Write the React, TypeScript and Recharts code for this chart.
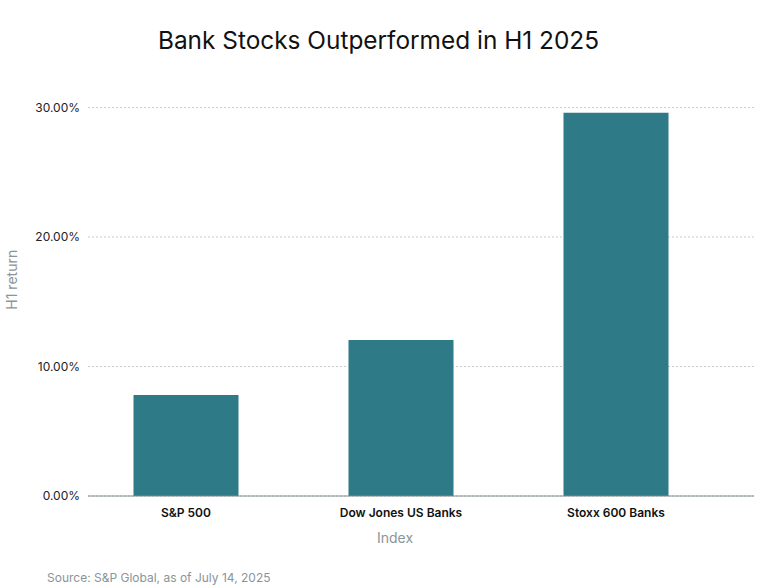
import React from 'react';
import { BarChart, Bar, XAxis, YAxis, CartesianGrid, Label } from 'recharts';

const categories = ['S&P 500', 'Dow Jones US Banks', 'Stoxx 600 Banks'];
const returns = [7.8, 12.05, 29.6];
const yTicks = [0, 10, 20, 30];

const data = categories.map((name, i) => ({ name, value: returns[i] }));

const FONT = 'Inter, "Noto Sans", sans-serif';
const BAR = '#2e7a87';
const MUTED = '#8a9599';

const App: React.FC = () => {
  return (
    <div style={{ position: 'absolute', left: 0, top: 0, width: 757, height: 587, fontFamily: FONT, background: '#fff' }}>
      <div
        style={{
          position: 'absolute',
          top: 25,
          left: 0,
          width: 757,
          textAlign: 'center',
          fontSize: 24.4,
          color: '#111',
        }}
      >
        Bank Stocks Outperformed in H1 2025
      </div>
      <BarChart
        width={757}
        height={587}
        data={data}
        margin={{ top: 107.5, right: 3, bottom: 61, left: 0 }}
      >
        <CartesianGrid vertical={false} stroke="#cccccc" strokeDasharray="2 2" />
        <XAxis
          dataKey="name"
          height={30}
          padding={{ left: -9.5, right: 30.5 }}
          tickLine={false}
          axisLine={{ stroke: '#7f8c8d' }}
          tick={{ fontSize: 12, fill: '#111', fontWeight: 600, fontFamily: FONT }}
          tickMargin={6}
        >
          <Label value="Index" position="insideBottom" offset={-17} dx={-26} style={{ fontSize: 14, fill: MUTED, fontFamily: FONT }} />
        </XAxis>
        <YAxis
          width={88}
          domain={[0, 30]}
          ticks={yTicks}
          tickLine={false}
          axisLine={false}
          tickFormatter={(v: number) => `${v.toFixed(2)}%`}
          tick={{ fontSize: 12, fill: '#222', fontFamily: FONT }}
        >
          <Label value="H1 return" angle={-90} position="insideLeft" offset={12} dy={-22} style={{ fontSize: 14, fill: MUTED, fontFamily: FONT, textAnchor: 'middle' }} />
        </YAxis>
        <Bar dataKey="value" fill={BAR} barSize={105} isAnimationActive={false} />
      </BarChart>
      <div style={{ position: 'absolute', left: 47, top: 570, fontSize: 12, color: MUTED }}>
        Source: S&amp;P Global, as of July 14, 2025
      </div>
    </div>
  );
};

export default App;
